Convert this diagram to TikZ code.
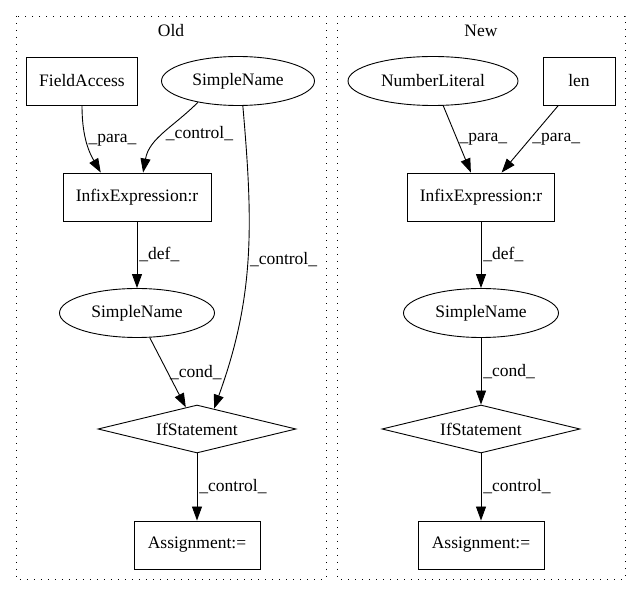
\documentclass[tikz,border=0pt]{standalone}
\usepackage{fontspec}
\setmainfont{Liberation Serif}
\usetikzlibrary{arrows.meta,shapes.geometric}

\begin{document}
\begin{tikzpicture}[x=1pt,y=1pt,line width=0.9pt,>={Triangle[length=14pt,width=10pt]},
  every node/.style={font=\fontsize{17.5}{20}\selectfont},
  box/.style={draw,rectangle,inner sep=0pt,minimum height=48pt},
  oval/.style={draw,ellipse,inner sep=0pt,minimum height=49pt},
  cond/.style={draw,diamond,inner sep=0pt,aspect=4,minimum width=198pt,minimum height=48pt},
  lbl/.style={right,inner sep=2pt},
  cluster/.style={dash pattern=on 1.4pt off 5.6pt}]

\useasboundingbox (0,0) rectangle (641,-596);

% Old
\draw[cluster] (16,-16) rectangle (326,-579);
\node (old) at (171,-31) {Old};

\node[box,minimum width=111pt] (ofield) at (82,-81) {FieldAccess};
\node[oval,minimum width=153pt] (oname) at (238,-81) {SimpleName};
\node[box,minimum width=148pt] (oinfix) at (137,-197) {InfixExpression:r};
\node[oval,minimum width=155pt] (oname2) at (137,-313) {SimpleName};
\node[cond] (oif) at (197,-429) {IfStatement};
\node[box,minimum width=126pt] (oassign) at (197,-545) {Assignment:=};

\draw[->] (ofield.south) to[out=-90,in=120] node[lbl] {\_para\_} (oinfix.146);
\draw[->] (oname.208) to[out=225,in=80] node[lbl] {\_control\_} (oinfix.76);
\draw[->] (oname.281) to[out=-85,in=70] node[lbl] {\_control\_} (oif.50);
\draw[->] (oinfix) -- node[lbl] {\_def\_} (oname2);
\draw[->] (oname2) -- node[lbl] {\_cond\_} (oif);
\draw[->] (oif) -- node[lbl] {\_control\_} (oassign);

% New
\draw[cluster] (337,-16) rectangle (625,-579);
\node (new) at (481,-31) {New};

\node[oval,minimum width=170pt] (nnum) at (433,-81) {NumberLiteral};
\node[box,minimum width=72pt] (nlen) at (579,-81) {len};
\node[box,minimum width=147pt] (ninfix) at (481,-197) {InfixExpression:r};
\node[oval,minimum width=155pt] (nname) at (481,-313) {SimpleName};
\node[cond] (nif) at (481,-429) {IfStatement};
\node[box,minimum width=126pt] (nassign) at (481,-545) {Assignment:=};

\draw[->] (nnum) -- node[lbl] {\_para\_} (ninfix);
\draw[->] (nlen) -- node[lbl] {\_para\_} (ninfix);
\draw[->] (ninfix) -- node[lbl] {\_def\_} (nname);
\draw[->] (nname) -- node[lbl] {\_cond\_} (nif);
\draw[->] (nif) -- node[lbl] {\_control\_} (nassign);

\end{tikzpicture}
\end{document}
